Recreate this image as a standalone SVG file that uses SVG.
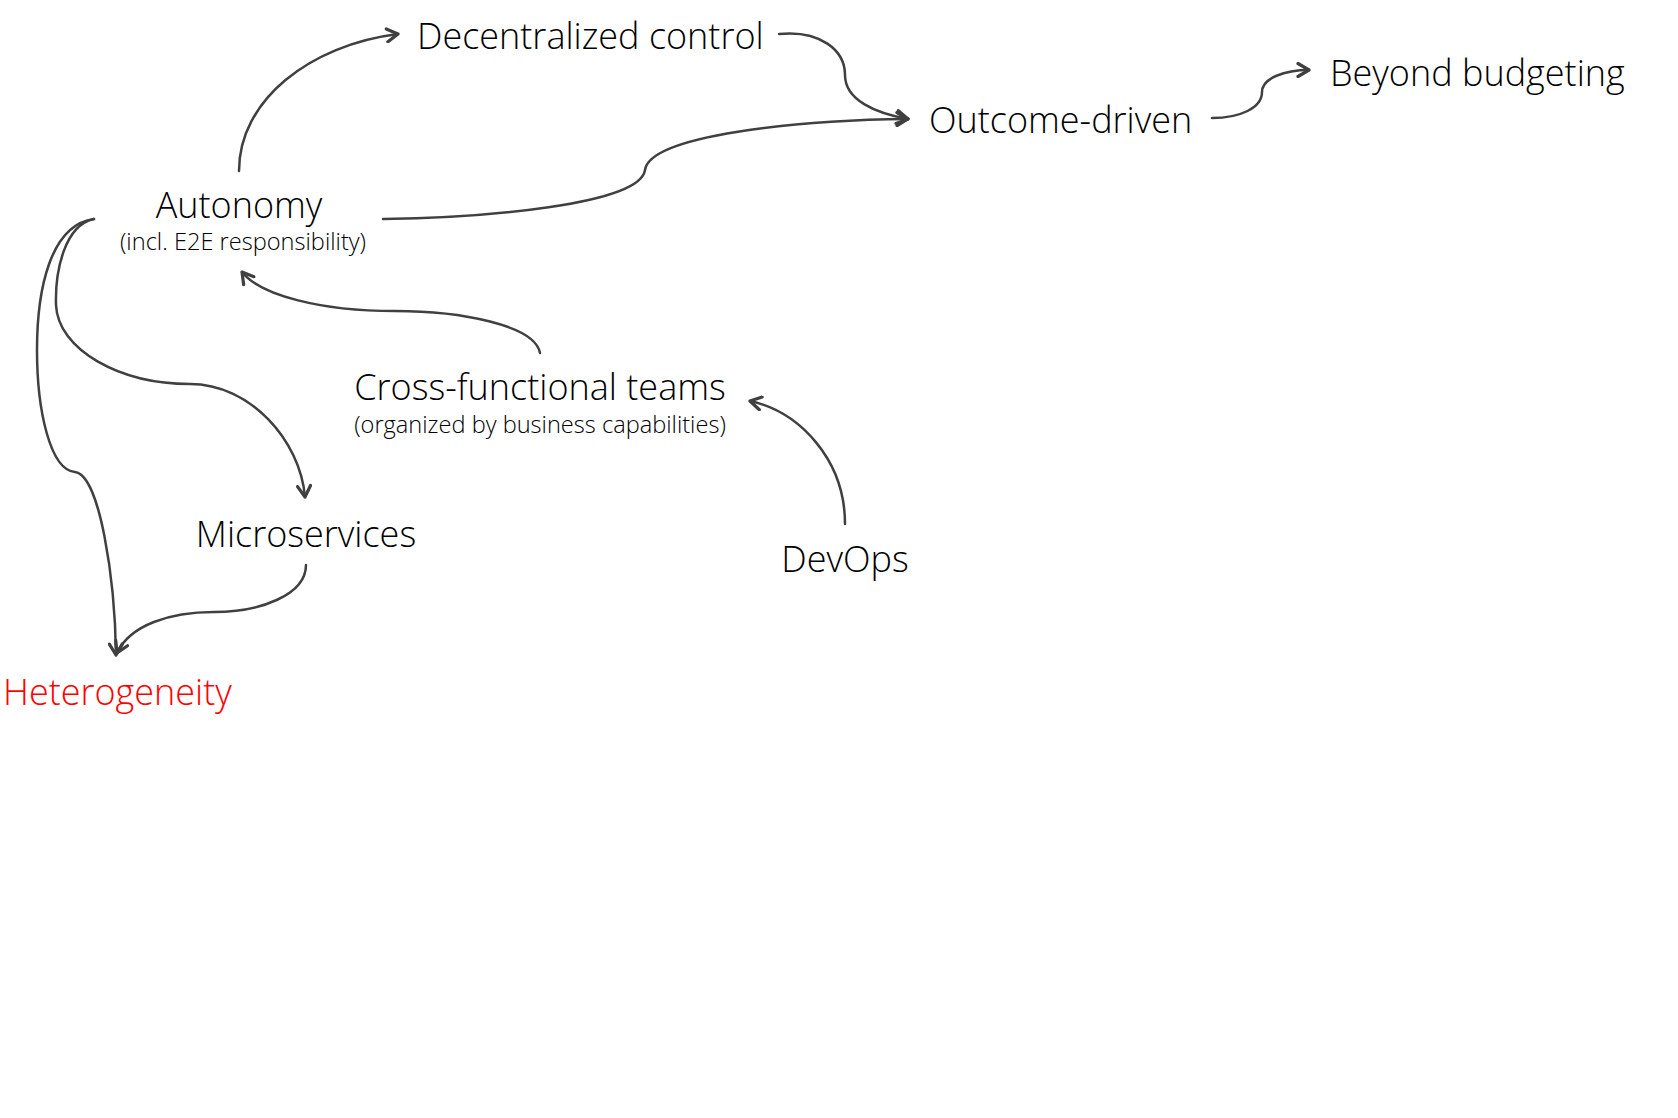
<svg xmlns="http://www.w3.org/2000/svg" width="1678" height="1118" viewBox="0 0 1678 1118">
<style>
.t{font-family:"Open Sans","Noto Sans",sans-serif;font-weight:300;font-size:36px;fill:#000}
.s{font-family:"Open Sans","Noto Sans",sans-serif;font-weight:300;font-size:23.6px;fill:#000}
.r{fill:#ff0000}
.c{fill:none;stroke:#404040;stroke-width:2.5;stroke-linecap:round}
</style>
<defs>
<marker id="a" viewBox="0 0 16 16" refX="13" refY="8" markerWidth="16" markerHeight="16" markerUnits="userSpaceOnUse" orient="auto">
<path d="M2,1.5 L13,8 L2,14.5" fill="none" stroke="#404040" stroke-width="3.2" stroke-linecap="round" stroke-linejoin="round"/>
</marker>
</defs>
<rect width="1678" height="1118" fill="#fff"/>
<g id="connectors">
<path class="c" marker-end="url(#a)" d="M239,171 C239,100 310,45 398,34"/>
<path class="c" marker-end="url(#a)" d="M779,34 C820,30 845,50 845,75 C845,100 875,113 908,119"/>
<path class="c" marker-end="url(#a)" d="M383,219 C480,218 640,205 645,170 C650,135 800,120 908,119"/>
<path class="c" marker-end="url(#a)" d="M1212,118 C1240,118 1262,108 1262,92 C1262,78 1285,70 1309,70"/>
<path class="c" marker-end="url(#a)" d="M540,353 C535,325 460,311 395,311 C320,311 260,295 242,272"/>
<path class="c" marker-end="url(#a)" d="M845,524 C845,460 800,412 750,401"/>
<path class="c" marker-end="url(#a)" d="M94,219 C65,225 55,270 56,305 C58,350 120,384 190,384 C250,384 300,440 305,497"/>
<path class="c" marker-end="url(#a)" d="M94,219 C50,225 37,290 37,350 C37,410 50,470 75,472 C100,475 115,580 116,655"/>
<path class="c" marker-end="url(#a)" d="M306,565 C306,595 260,612 214,612 C170,612 130,625 117,653"/>
</g>
<g id="decentralized"><text class="t" x="417" y="49">Decentralized control</text></g>
<g id="outcome"><text class="t" x="929" y="133">Outcome-driven</text></g>
<g id="beyond"><text class="t" x="1330" y="86">Beyond budgeting</text></g>
<g id="autonomy"><text class="t" x="239" y="218" text-anchor="middle">Autonomy</text><text class="s" x="243" y="250" text-anchor="middle">(incl. E2E responsibility)</text></g>
<g id="crossfunctional"><text class="t" x="540" y="400" text-anchor="middle">Cross-functional teams</text><text class="s" x="540" y="433" text-anchor="middle">(organized by business capabilities)</text></g>
<g id="microservices"><text class="t" x="306" y="547" text-anchor="middle">Microservices</text></g>
<g id="devops"><text class="t" x="845" y="572" text-anchor="middle">DevOps</text></g>
<g id="heterogeneity"><text class="t r" x="3" y="705">Heterogeneity</text></g>
</svg>
